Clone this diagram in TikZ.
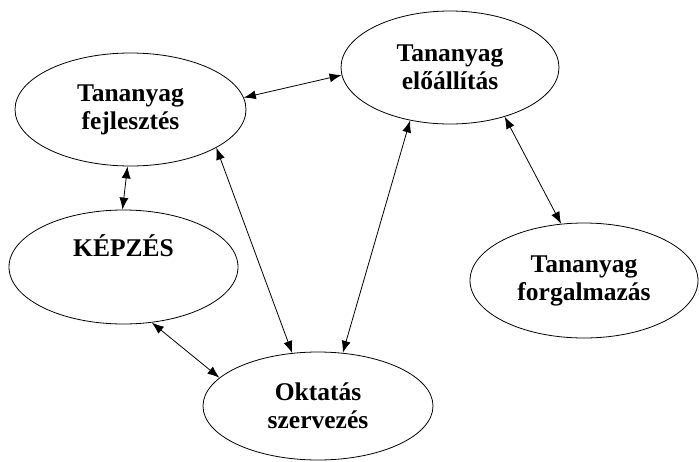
\documentclass[tikz,border=0pt]{standalone}
\usepackage{fontspec}
\setmainfont{Liberation Serif}
\usetikzlibrary{shapes.geometric,arrows.meta}
\tikzset{
  blob/.style={ellipse, draw, line width=0.8pt, inner sep=0pt, align=center,
    font=\bfseries\fontsize{25.5}{28}\selectfont},
  link/.style={{Latex[length=12pt,width=9pt]}-{Latex[length=12pt,width=9pt]}, line width=0.8pt}
}
\begin{document}
\begin{tikzpicture}[x=1pt,y=-1pt]
\useasboundingbox (0,0) rectangle (699,461);
\node[blob, minimum width=231pt, minimum height=113pt] (fej) at (130.5,109.5) {Tananyag\\fejlesztés};
\node[blob, minimum width=218pt, minimum height=113pt] (elo) at (450,67.5) {Tananyag\\előállítás};
\node[blob, minimum width=229pt, minimum height=114pt] (kep) at (123.5,267) {KÉPZÉS\\[15pt]\mbox{}};
\node[blob, minimum width=228pt, minimum height=115pt] (for) at (584,280.5) {Tananyag\\forgalmazás};
\node[blob, minimum width=230pt, minimum height=108pt] (okt) at (318,406) {Oktatás\\szervezés};
\draw[link] (fej.6.2) -- (elo.184.9);
\draw[link] (fej.267.6) -- (kep.91.4);
\draw[link] (fej.336.1) -- (okt.116.6);
\draw[link] (elo.233.9) -- (okt.65.0);
\draw[link] (elo.318.7) -- (for.112.3);
\draw[link] (kep.297.4) -- (okt.164.3);
\end{tikzpicture}
\end{document}
